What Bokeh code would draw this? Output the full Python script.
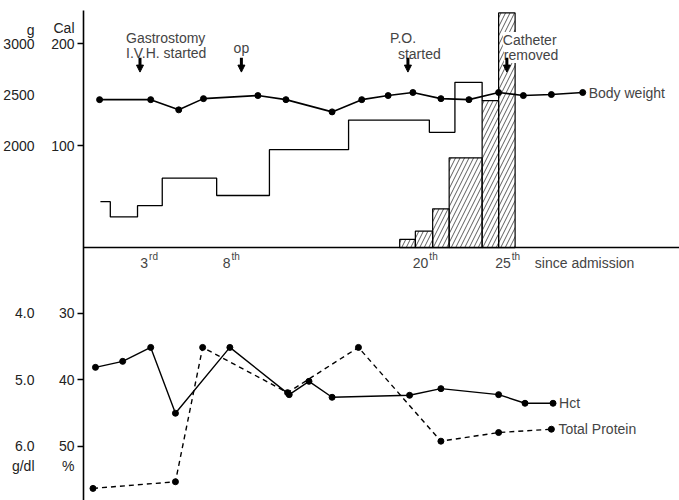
from bokeh.plotting import figure
from bokeh.models import (Range1d, LinearAxis, FixedTicker, Label, Span, Arrow, NormalHead)
from bokeh.embed import file_html
from bokeh.resources import INLINE

FONT = "Liberation Sans"
FS = "14px"

# ---------------- data ----------------
# body weight (g) by day since admission
weight_day = [0.0, 3.1, 4.8, 6.3, 9.6, 11.3, 14.1, 15.9, 17.5, 19.0, 20.7, 22.4, 24.2, 25.7, 27.4, 29.3]
weight_g = [2450, 2450, 2350, 2460, 2490, 2450, 2330, 2450, 2490, 2520, 2460, 2450, 2520, 2490, 2500, 2520]

# total calorie intake (step line, start day of each step)
total_day = [0.05, 0.65, 2.3, 3.8, 7.1, 10.3, 15.1, 20.0, 21.55]
total_cal = [45, 30, 41, 68, 51, 96, 125, 113, 162]

# P.O. calorie intake (hatched steps)
po_start = [18.2, 19.15, 20.2, 21.2, 23.2, 24.2]
po_end = [19.15, 20.2, 21.2, 23.2, 24.2, 25.2]
po_cal = [8, 16, 38, 88, 144, 230]

# hematocrit (%)
hct_day = [-0.25, 1.4, 3.1, 4.6, 7.9, 11.5, 12.7, 14.1, 18.8, 20.7, 24.2, 25.8, 27.5]
hct = [38.1, 37.2, 35.1, 45.0, 35.1, 42.2, 40.2, 42.6, 42.3, 41.3, 42.2, 43.5, 43.5]

# total protein (g/dl)
protein_day = [-0.4, 4.6, 6.25, 11.4, 15.7, 20.7, 24.2, 27.4]
protein = [6.63, 6.53, 4.51, 5.19, 4.51, 5.92, 5.79, 5.74]

# events
event_day = [2.45, 8.6, 18.7, 24.7]
event_text = ["Gastrostomy\nI.V.H. started", "op", "P.O.\nstarted", "Catheter\nremoved"]

# axes ticks
day_ticks = [3, 8, 20, 25]
day_tick_num = ["3", "8", "20", "25"]
day_tick_suffix = ["rd", "th", "th", "th"]
cal_ticks = [100, 200]
weight_ticks = [2000, 2500, 3000]
hct_ticks = [30, 40, 50]
protein_ticks = [4.0, 5.0, 6.0]

# unit titles (shown as extra axis labels above / below the ticks)
cal_unit, cal_unit_pos = "Cal", 215.5
weight_unit, weight_unit_pos = "g", 3130
hct_unit, hct_unit_pos = "%", 52.9
protein_unit, protein_unit_pos = "g/dl", 6.29

# ---------------- scales (one frame, four aligned vertical scales) ----------------
XR = (-0.976, 35.17)
CAL_R = (-248.0, 232.4)      # main scale (Cal), baseline 0
W_R = (-1480.0, 3324.0)      # body weight (g)
HCT_R = (58.12, -15.56)      # Hct (%), inverted
PR_R = (6.812, -0.556)       # total protein (g/dl), inverted


def conv(v, src, dst):
    f = (v - src[0]) / (src[1] - src[0])
    return dst[0] + f * (dst[1] - dst[0])


p = figure(width=679, height=500, x_range=Range1d(*XR), y_range=Range1d(*CAL_R),
           output_backend="svg", toolbar_location=None,
           x_axis_location=None, y_axis_location=None,
           min_border_left=79, min_border_right=0, min_border_top=10, min_border_bottom=0)
p.grid.visible = False
p.outline_line_color = None
p.extra_y_ranges = {"weight": Range1d(*W_R), "hct": Range1d(*HCT_R), "protein": Range1d(*PR_R)}


def style(ax, line, standoff):
    ax.axis_line_color = "black" if line else None
    ax.axis_line_width = 1.6
    ax.major_tick_line_color = None
    ax.major_tick_out = 6 if line else 0
    ax.major_tick_in = 0
    ax.minor_tick_line_color = "black" if line else None
    ax.minor_tick_out = 6 if line else 0
    ax.minor_tick_in = 0
    ax.minor_tick_line_width = 1.3
    ax.major_label_standoff = standoff
    ax.major_label_text_font = FONT
    ax.major_label_text_font_size = FS
    ax.major_label_text_color = "#222222"


# inner axis: Cal (top) + Hct (bottom), drawn on the main scale
inner_marks = list(cal_ticks) + [conv(h, HCT_R, CAL_R) for h in hct_ticks]
inner_labels = {c: str(c) for c in cal_ticks}
inner_labels[cal_unit_pos] = cal_unit
for h in hct_ticks:
    inner_labels[conv(h, HCT_R, CAL_R)] = str(h)
inner_labels[conv(hct_unit_pos, HCT_R, CAL_R)] = hct_unit
inner = LinearAxis(ticker=FixedTicker(ticks=list(inner_labels.keys()), minor_ticks=inner_marks))
inner.major_label_overrides = inner_labels
style(inner, True, 3)
p.add_layout(inner, "left")

# outer axis: body weight (top) + total protein (bottom), drawn on the weight scale
outer_labels = {w: str(w) for w in weight_ticks}
outer_labels[weight_unit_pos] = weight_unit
for t in protein_ticks:
    outer_labels[conv(t, PR_R, W_R)] = "%.1f" % t
outer_labels[conv(protein_unit_pos, PR_R, W_R)] = protein_unit
outer = LinearAxis(y_range_name="weight", ticker=FixedTicker(ticks=list(outer_labels.keys())))
outer.major_label_overrides = outer_labels
style(outer, False, 14)
p.add_layout(outer, "left")

# baseline of the calorie chart
p.add_layout(Span(location=0, dimension="width", line_color="black", line_width=1.6))

# P.O. calories (hatched)
p.quad(left=po_start, right=po_end, bottom=0, top=po_cal, fill_alpha=0,
       hatch_pattern="/", hatch_scale=9, hatch_weight=0.8, hatch_color="#333333",
       line_color="black", line_width=1.2)

# total calories (step)
step_x = total_day + [po_start[4]]
step_y = total_cal + [po_cal[4]]
p.step(step_x, step_y, mode="after", line_color="black", line_width=1.3)

# body weight
p.line(weight_day, weight_g, y_range_name="weight", line_color="black", line_width=1.6)
p.scatter(weight_day, weight_g, y_range_name="weight", size=6, color="black")
p.add_layout(Label(x=weight_day[-1], y=weight_g[-1], y_range_name="weight", text="Body weight",
                   x_offset=6, text_baseline="middle", text_font=FONT, text_font_size=FS))

# Hct and total protein
p.line(hct_day, hct, y_range_name="hct", line_color="black", line_width=1.4)
p.scatter(hct_day, hct, y_range_name="hct", size=6, color="black")
p.line(protein_day, protein, y_range_name="protein", line_color="black", line_width=1.4,
       line_dash="5 4")
p.scatter(protein_day, protein, y_range_name="protein", size=6, color="black")
p.add_layout(Label(x=hct_day[-1], y=hct[-1], y_range_name="hct", text="Hct", x_offset=6,
                   text_baseline="middle", text_font=FONT, text_font_size=FS))
p.add_layout(Label(x=protein_day[-1], y=protein[-1], y_range_name="protein", text="Total Protein",
                   x_offset=7, text_baseline="middle", text_font=FONT, text_font_size=FS))

# event arrows and texts
ev_align = ["left", "center", "left", "left"]
ev_y = [[462.5, 447.5], [453], [462.5, 447], [460.5, 445.5]]
ev_xoff = [[-14, -14], [0], [-18, -10], [-4, -3]]
ev_bg = [None, None, None, "white"]
for d, txt, al, ys, xos, bg in zip(event_day, event_text, ev_align, ev_y, ev_xoff, ev_bg):
    for ln, yy, lx in zip(txt.split("\n"), ys, xos):
        p.add_layout(Label(x=d, y=yy, y_units="screen", x_offset=lx, text=ln,
                           text_align=al, text_baseline="alphabetic",
                           background_fill_color=bg,
                           text_font=FONT, text_font_size=FS))
    p.add_layout(Arrow(x_start=d, x_end=d, y_start=186, y_end=172, line_width=3,
                       line_color="black",
                       end=NormalHead(size=7, fill_color="black", line_color="black", line_width=1)))

# day labels (number + superscript suffix)
for d, n, s in zip(day_ticks, day_tick_num, day_tick_suffix):
    p.add_layout(Label(x=d, y=238, y_units="screen", x_offset=-1, text=n, text_align="right",
                       text_baseline="alphabetic", text_font=FONT, text_font_size=FS))
    p.add_layout(Label(x=d, y=244, y_units="screen", x_offset=0, text=s, text_align="left",
                       text_baseline="alphabetic", text_font=FONT, text_font_size="10px"))
p.add_layout(Label(x=day_ticks[-1], y=238, y_units="screen", x_offset=23, text="since admission",
                   text_align="left", text_baseline="alphabetic",
                   text_font=FONT, text_font_size=FS))

open("out.html", "w").write(file_html(p, INLINE))
